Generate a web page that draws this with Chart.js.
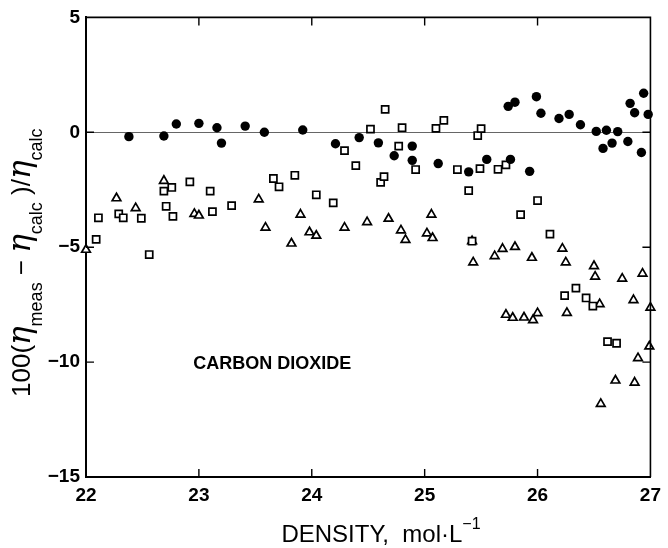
<!DOCTYPE html>
<html>
<head>
<meta charset="utf-8">
<script src="https://cdn.jsdelivr.net/npm/chart.js@4.4.1/dist/chart.umd.min.js"></script>
<style>
  html, body { margin: 0; padding: 0; background: #fff; }
  #wrap { width: 668px; height: 548px; }
</style>
</head>
<body>
<div id="wrap"><canvas id="c" width="668" height="548"></canvas></div>
<script>
// filled circles
const circleX = [22.38, 22.69, 22.80, 23.00, 23.16, 23.20, 23.41, 23.58, 23.92, 24.21, 24.42, 24.59, 24.73, 24.89, 24.89, 25.12, 25.39, 25.55, 25.74, 25.76, 25.80, 25.93, 25.99, 26.03, 26.19, 26.28, 26.38, 26.52, 26.58, 26.61, 26.66, 26.71, 26.80, 26.82, 26.86, 26.92, 26.94, 26.98];
const circleY = [-0.19, -0.16, 0.36, 0.39, 0.20, -0.47, 0.27, 0.00, 0.10, -0.50, -0.23, -0.46, -1.02, -0.60, -1.22, -1.36, -1.72, -1.18, 1.13, -1.18, 1.31, -1.70, 1.55, 0.83, 0.60, 0.78, 0.33, 0.04, -0.70, 0.09, -0.47, 0.03, -0.40, 1.26, 0.85, -0.88, 1.70, 0.78];

// open squares
const squareX = [22.09, 22.11, 22.29, 22.33, 22.49, 22.56, 22.69, 22.71, 22.76, 22.77, 22.92, 23.10, 23.12, 23.29, 23.66, 23.71, 23.85, 24.04, 24.19, 24.29, 24.39, 24.52, 24.61, 24.64, 24.65, 24.77, 24.80, 24.92, 25.10, 25.17, 25.29, 25.39, 25.42, 25.47, 25.49, 25.50, 25.65, 25.72, 25.85, 26.00, 26.11, 26.24, 26.34, 26.43, 26.49, 26.62, 26.70];
const squareY = [-4.66, -3.72, -3.55, -3.72, -3.74, -5.32, -2.56, -3.22, -2.40, -3.66, -2.16, -2.56, -3.45, -3.19, -2.01, -2.37, -1.87, -2.72, -3.07, -0.80, -1.45, 0.14, -2.18, -1.93, 1.00, -0.60, 0.20, -1.62, 0.17, 0.52, -1.62, -2.54, -4.74, -0.14, -1.58, 0.16, -1.61, -1.42, -3.58, -2.97, -4.43, -7.11, -6.78, -7.21, -7.56, -9.11, -9.18];

// open triangles
const triX = [22.00, 22.27, 22.44, 22.69, 22.96, 23.00, 23.53, 23.59, 23.82, 23.90, 23.98, 24.04, 24.29, 24.49, 24.68, 24.79, 24.83, 25.02, 25.06, 25.07, 25.42, 25.43, 25.62, 25.69, 25.72, 25.78, 25.80, 25.88, 25.95, 25.96, 26.00, 26.22, 26.25, 26.26, 26.50, 26.51, 26.55, 26.56, 26.69, 26.75, 26.85, 26.86, 26.89, 26.93, 26.99, 27.00];
const triY = [-5.11, -2.87, -3.30, -2.11, -3.55, -3.62, -2.92, -4.15, -4.84, -3.58, -4.35, -4.50, -4.15, -3.91, -3.76, -4.27, -4.68, -4.40, -3.58, -4.60, -4.74, -5.66, -5.39, -5.07, -7.94, -8.07, -4.99, -8.06, -5.46, -8.17, -7.87, -5.06, -5.66, -7.86, -5.82, -6.28, -7.48, -11.82, -10.80, -6.37, -7.30, -10.89, -9.83, -6.15, -9.32, -7.63];

const xTicks = [22, 23, 24, 25, 26, 27];
const yTicks = [-15, -10, -5, 0, 5];
const gasLabel = "CARBON DIOXIDE";

const pts = (xs, ys) => xs.map((x, i) => ({ x: x, y: ys[i] }));

const FONT = "'Liberation Sans', Arial, sans-serif";

// box, inner ticks, axis titles and gas label
const decorations = {
  id: "decorations",
  afterDraw(chart) {
    const ctx = chart.ctx;
    const xs = chart.scales.x, ys = chart.scales.y;
    const a = chart.chartArea;
    ctx.save();
    ctx.strokeStyle = "#000";
    ctx.lineWidth = 1.6;
    ctx.beginPath();
    ctx.moveTo(a.left, a.top);
    ctx.lineTo(a.right, a.top);
    ctx.lineTo(a.right, a.bottom);
    ctx.stroke();

    ctx.lineWidth = 1.4;
    const tl = 8;
    ctx.beginPath();
    xTicks.slice(1, -1).forEach(v => {
      const px = xs.getPixelForValue(v);
      ctx.moveTo(px, a.bottom); ctx.lineTo(px, a.bottom - tl);
      ctx.moveTo(px, a.top); ctx.lineTo(px, a.top + tl);
    });
    yTicks.slice(1, -1).forEach(v => {
      const py = ys.getPixelForValue(v);
      ctx.moveTo(a.left, py); ctx.lineTo(a.left + tl, py);
      ctx.moveTo(a.right, py); ctx.lineTo(a.right - tl, py);
    });
    ctx.stroke();

    // gas label
    ctx.fillStyle = "#000";
    ctx.font = "bold 18px " + FONT;
    ctx.textBaseline = "middle";
    ctx.textAlign = "left";
    ctx.fillText(gasLabel, xs.getPixelForValue(22.95), ys.getPixelForValue(-10.1));

    // x title
    ctx.textBaseline = "alphabetic";
    const main = "DENSITY,  mol\u00b7L";
    const sup = "\u22121";
    ctx.font = "24px " + FONT;
    const w1 = ctx.measureText(main).width;
    ctx.font = "16px " + FONT;
    const w2 = ctx.measureText(sup).width;
    const sx = 381 - (w1 + w2) / 2;
    ctx.font = "24px " + FONT;
    ctx.fillText(main, sx, 542);
    ctx.font = "16px " + FONT;
    ctx.fillText(sup, sx + w1, 529);

    // y title, rotated, with subscripts
    ctx.translate(30, 397);
    ctx.rotate(-Math.PI / 2);
    const eta = "italic 31px 'DejaVu Serif', serif";
    const parts = [
      ["100(", "26px " + FONT, 0],
      ["\u03b7", eta, 0],
      ["meas", "18px " + FONT, 12],
      [" \u2212 ", "26px " + FONT, 0],
      ["\u03b7", eta, 0],
      ["calc", "18px " + FONT, 12],
      [" )/", "26px " + FONT, 0],
      ["\u03b7", eta, 0],
      ["calc", "18px " + FONT, 12]
    ];
    let off = 0;
    parts.forEach(p => {
      ctx.font = p[1];
      ctx.fillText(p[0], off, p[2]);
      off += ctx.measureText(p[0]).width;
    });
    ctx.restore();
  }
};

new Chart(document.getElementById("c"), {
  type: "scatter",
  data: {
    datasets: [
      {
        label: "circles",
        data: pts(circleX, circleY),
        pointStyle: "circle",
        pointRadius: 4.7,
        backgroundColor: "#000",
        borderColor: "#000",
        borderWidth: 0,
        clip: false
      },
      {
        label: "squares",
        data: pts(squareX, squareY),
        pointStyle: "rect",
        pointRadius: 5,
        backgroundColor: "#fff",
        borderColor: "#000",
        borderWidth: 1.7,
        clip: false
      },
      {
        label: "triangles",
        data: pts(triX, triY),
        pointStyle: "triangle",
        pointRadius: 5,
        backgroundColor: "#fff",
        borderColor: "#000",
        borderWidth: 1.7,
        clip: false
      }
    ]
  },
  options: {
    responsive: false,
    animation: false,
    layout: { padding: { top: 12, right: 11, left: 0, bottom: 0 } },
    scales: {
      x: {
        type: "linear",
        min: 22,
        max: 27,
        afterFit: s => { s.height = 71; },
        afterBuildTicks: s => { s.ticks = xTicks.map(v => ({ value: v })); },
        ticks: {
          padding: 7,
          color: "#000",
          font: { family: FONT, size: 19, weight: "bold" }
        },
        grid: { drawOnChartArea: false, drawTicks: false },
        border: { display: true, color: "#000", width: 2 }
      },
      y: {
        min: -15,
        max: 5,
        afterFit: s => { s.width = 86; },
        afterBuildTicks: s => { s.ticks = yTicks.map(v => ({ value: v })); },
        ticks: {
          padding: 6,
          color: "#000",
          font: { family: FONT, size: 19, weight: "bold" },
          callback: v => (v < 0 ? "\u2212" + Math.abs(v) : String(v))
        },
        grid: {
          drawTicks: false,
          lineWidth: 1,
          color: c => (c.tick && c.tick.value === 0 ? "#666" : "transparent")
        },
        border: { display: true, color: "#000", width: 2 }
      }
    },
    plugins: {
      legend: { display: false },
      tooltip: { enabled: false }
    }
  },
  plugins: [decorations]
});
</script>
</body>
</html>
